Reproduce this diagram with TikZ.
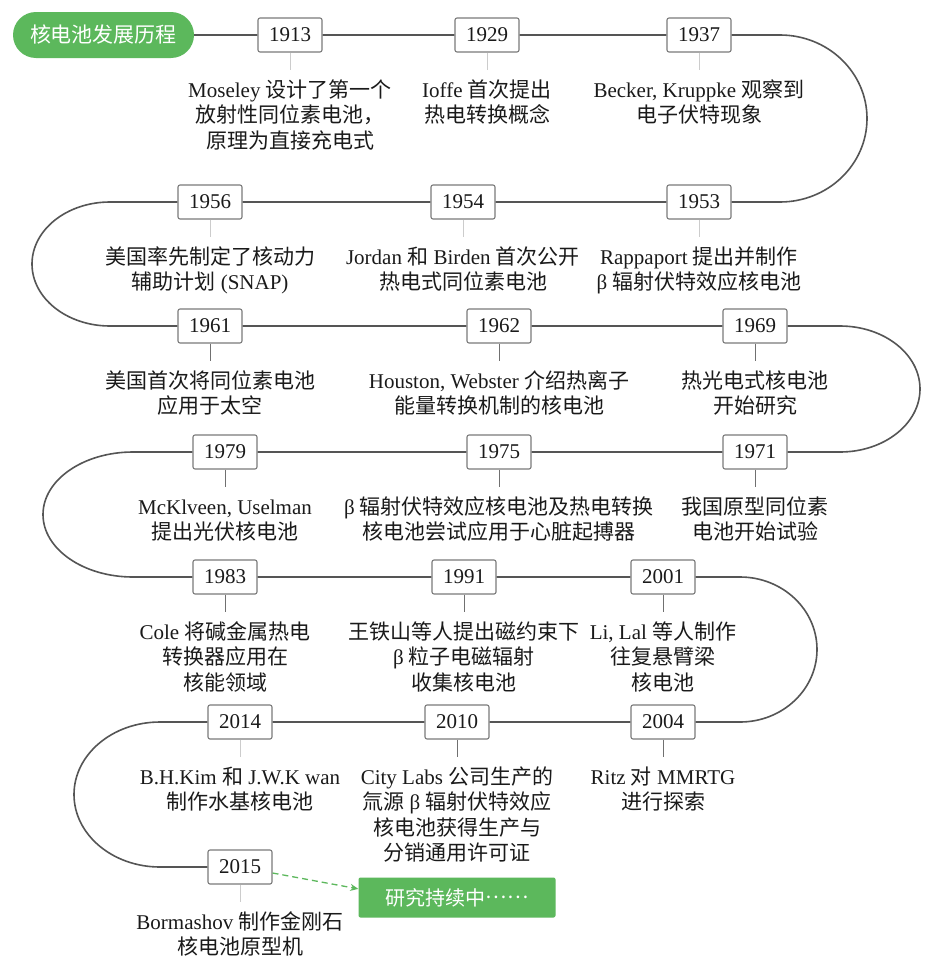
\documentclass[tikz,border=0pt]{standalone}
\usepackage{fontspec}
\setmainfont{Liberation Serif}
\newfontfamily\cjk{Noto Sans CJK SC}
\usetikzlibrary{arrows.meta}
\newcommand\zh[1]{{\cjk #1}}
\definecolor{linegray}{HTML}{555555}
\definecolor{boxgray}{HTML}{7A7A7A}
\definecolor{ticklight}{HTML}{CCCCCC}
\definecolor{tickdark}{HTML}{707070}
\definecolor{mygreen}{HTML}{5CB85C}
\definecolor{txt}{HTML}{1A1A1A}
\tikzset{
  yearbox/.style={draw=boxgray, line width=1.1pt, fill=white, rounded corners=2pt,
    minimum width=64pt, minimum height=34pt, inner sep=0pt,
    font=\fontsize{21}{24}\selectfont, text=txt},
  desc/.style={anchor=north, inner sep=0pt, outer sep=8pt, align=center,
    font=\fontsize{21}{25.5}\selectfont, text=txt},
  mainline/.style={draw=linegray, line width=1.6pt},
  ticklt/.style={draw=ticklight, line width=1pt},
  tickdk/.style={draw=tickdark, line width=1pt},
  pill/.style={fill=mygreen, text=white, rounded corners=23pt, minimum width=181pt,
    minimum height=46pt, inner sep=0pt, font=\fontsize{21}{25}\selectfont\cjk},
  greenbtn/.style={fill=mygreen, text=white, rounded corners=2pt, minimum width=197pt,
    minimum height=40pt, inner sep=0pt, font=\fontsize{20}{24}\selectfont\cjk},
  greenarrow/.style={draw=mygreen, line width=1.3pt, dash pattern=on 6pt off 4pt,
    -{Stealth[length=8pt,width=7pt]}}
}
\newcommand\Yr[5]{% name, x, y(px), year, text
  \node[yearbox] (b#1) at (#2,-#3) {#4};
  \node[desc] (t#1) at (#2,-#3-35) {\rule{0pt}{19pt}#5};
}
\begin{document}
\begin{tikzpicture}[x=1pt,y=1pt]
\fill[white] (0,0) rectangle (944,-964);
\useasboundingbox (0,0) rectangle (944,-964);

\node[pill] (title) at (103.5,-35) {核电池发展历程};

% row 1
\Yr{1913}{290}{35}{1913}{Moseley \zh{设计了第一个}\\\zh{放射性同位素电池，}\\\zh{原理为直接充电式}}
\Yr{1929}{487}{35}{1929}{Ioffe \zh{首次提出}\\\zh{热电转换概念}}
\Yr{1937}{699}{35}{1937}{Becker, Kruppke \zh{观察到}\\\zh{电子伏特现象}}
% row 2
\Yr{1956}{210}{202}{1956}{\zh{美国率先制定了核动力}\\\zh{辅助计划} (SNAP)}
\Yr{1954}{463}{202}{1954}{Jordan \zh{和} Birden \zh{首次公开}\\\zh{热电式同位素电池}}
\Yr{1953}{699}{202}{1953}{Rappaport \zh{提出并制作}\\β \zh{辐射伏特效应核电池}}
% row 3
\Yr{1961}{210}{326}{1961}{\zh{美国首次将同位素电池}\\\zh{应用于太空}}
\Yr{1962}{499}{326}{1962}{Houston, Webster \zh{介绍热离子}\\\zh{能量转换机制的核电池}}
\Yr{1969}{755}{326}{1969}{\zh{热光电式核电池}\\\zh{开始研究}}
% row 4
\Yr{1979}{225}{452}{1979}{McKlveen, Uselman\\\zh{提出光伏核电池}}
\Yr{1975}{499}{452}{1975}{β \zh{辐射伏特效应核电池及热电转换}\\\zh{核电池尝试应用于心脏起搏器}}
\Yr{1971}{755}{452}{1971}{\zh{我国原型同位素}\\\zh{电池开始试验}}
% row 5
\Yr{1983}{225}{577}{1983}{Cole \zh{将碱金属热电}\\\zh{转换器应用在}\\\zh{核能领域}}
\Yr{1991}{464}{577}{1991}{\zh{王铁山等人提出磁约束下}\\β \zh{粒子电磁辐射}\\\zh{收集核电池}}
\Yr{2001}{663}{577}{2001}{Li, Lal \zh{等人制作}\\\zh{往复悬臂梁}\\\zh{核电池}}
% row 6
\Yr{2014}{240}{722}{2014}{B.H.Kim \zh{和} J.W.K wan\\\zh{制作水基核电池}}
\Yr{2010}{457}{722}{2010}{City Labs \zh{公司生产的}\\\zh{氚源} β \zh{辐射伏特效应}\\\zh{核电池获得生产与}\\\zh{分销通用许可证}}
\Yr{2004}{663}{722}{2004}{Ritz \zh{对} MMRTG\\\zh{进行探索}}
% row 7
\Yr{2015}{240}{867}{2015}{Bormashov \zh{制作金刚石}\\\zh{核电池原型机}}

\node[greenbtn] (btn) at (457,-897.5) {研究持续中\raisebox{6.5pt}{……}};

% turn points
\coordinate (c1) at (780,-35);
\coordinate (c2) at (110,-202);
\coordinate (c3) at (840,-326);
\coordinate (c4) at (133,-452);
\coordinate (c5) at (740,-577);
\coordinate (c6) at (160,-722);

% main timeline
\draw[mainline] (title) -- (b1913) -- (b1929) -- (b1937) -- (c1)
  arc[start angle=90, end angle=-90, x radius=87pt, y radius=83.5pt] -- (b1953);
\draw[mainline] (b1953) -- (b1954) -- (b1956) -- (c2)
  arc[start angle=90, end angle=270, x radius=78pt, y radius=62pt] -- (b1961);
\draw[mainline] (b1961) -- (b1962) -- (b1969) -- (c3)
  arc[start angle=90, end angle=-90, x radius=80pt, y radius=63pt] -- (b1971);
\draw[mainline] (b1971) -- (b1975) -- (b1979) -- (c4)
  arc[start angle=90, end angle=270, x radius=90pt, y radius=62.5pt] -- (b1983);
\draw[mainline] (b1983) -- (b1991) -- (b2001) -- (c5)
  arc[start angle=90, end angle=-90, x radius=77pt, y radius=72.5pt] -- (b2004);
\draw[mainline] (b2004) -- (b2010) -- (b2014) -- (c6)
  arc[start angle=90, end angle=270, x radius=86pt, y radius=72.5pt] -- (b2015);

% ticks
\foreach \n in {1913,1929,1937,1953,1954,1956,2014,2015}
  \draw[ticklt] (b\n) -- (t\n);
\foreach \n in {1961,1962,1969,1979,1975,1971,1983,1991,2001,2010,2004}
  \draw[tickdk] (b\n) -- (t\n);

% continuation arrow
\draw[greenarrow] (b2015) -- (btn.175);
\end{tikzpicture}
\end{document}
